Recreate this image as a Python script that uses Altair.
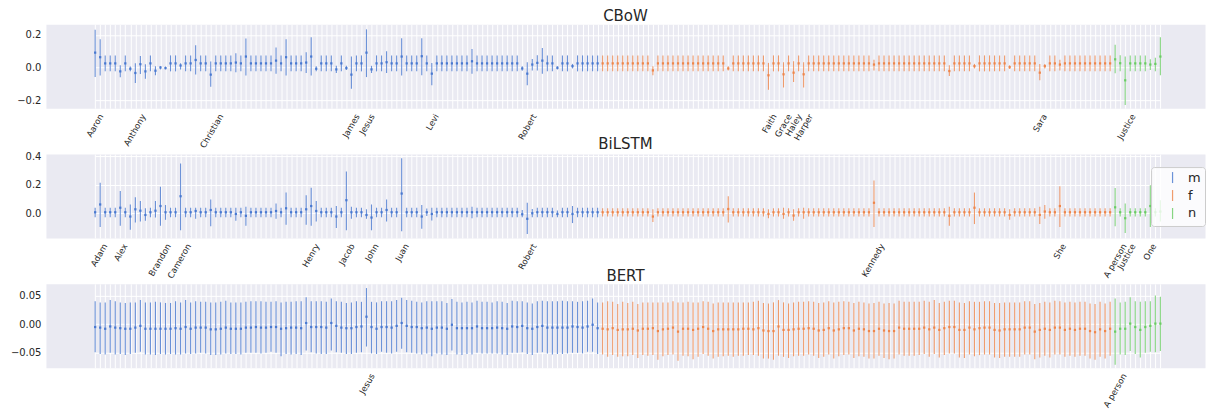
import json
import altair as alt
import pandas as pd

male_names = [
    "Aaron", "Adam", "Adrian", "Aiden", "Alejandro", "Alex", "Alexander", "Andrew", "Anthony", "Antonio",
    "Asher", "Austin", "Benjamin", "Brandon", "Brayden", "Brian", "Caleb", "Cameron", "Carlos", "Carter",
    "Charles", "Chase", "Chris", "Christian", "Christopher", "Colton", "Connor", "Daniel", "David", "Diego",
    "Dominic", "Dylan", "Easton", "Eli", "Elijah", "Eric", "Ethan", "Evan", "Ezra", "Gabriel",
    "Gavin", "Grayson", "He", "Henry", "Hudson", "Hunter", "Ian", "Isaac", "Isaiah", "Jack",
    "Jacob", "James", "Jason", "Jayden", "Jesus", "John", "Jonathan", "Jordan", "Jose", "Joseph",
    "Joshua", "Juan", "Julian", "Justin", "Kevin", "Kyle", "Landon", "Levi", "Liam", "Logan",
    "Lucas", "Luis", "Luke", "Mark", "Mason", "Matthew", "Michael", "Miguel", "Nathan", "Nicholas",
    "Noah", "Oliver", "Owen", "Patrick", "Paul", "Richard", "Robert", "Ryan", "Samuel", "Santiago",
    "Sean", "Sebastian", "Steven", "Thomas", "Timothy", "Tyler", "Victor", "William", "Wyatt", "Xavier",
    "Zachary",
]
female_names = [
    "Aaliyah", "Abigail", "Addison", "Alexa", "Alexis", "Alice", "Allison", "Alyssa", "Amanda",
    "Amelia", "Amy", "Andrea", "Angela", "Anna", "Ariana", "Aubrey", "Audrey", "Aurora", "Ava",
    "Bella", "Brianna", "Brooklyn", "Camila", "Caroline", "Charlotte", "Chloe", "Claire", "Daisy", "Delilah",
    "Eleanor", "Elena", "Elizabeth", "Emma", "Faith", "Genesis", "Gianna", "Grace", "Hailey", "Haley",
    "Hannah", "Harper", "Hazel", "Isabella", "Jasmine", "Jennifer", "Jessica", "Jocelyn", "Josephine", "Julia",
    "Kaitlyn", "Katherine", "Kayla", "Kaylee", "Kelly", "Kennedy", "Kimberly", "Kylie", "Laura", "Layla",
    "Leah", "Lillian", "Lily", "Lucy", "Luna", "Madelyn", "Madison", "Maria", "Maya", "Megan",
    "Melanie", "Mia", "Michelle", "Mila", "Naomi", "Natalie", "Nevaeh", "Nicole", "Nora", "Olivia",
    "Paisley", "Penelope", "Rachel", "Rebecca", "Rose", "Ruby", "Samantha", "Sandra", "Sara", "Sarah",
    "Savannah", "Scarlett", "She", "Sofia", "Sophia", "Stella", "Stephanie", "Taylor", "Valentina", "Victoria",
    "Violet", "Zoe", "Zoey",
]
neutral_names = ["A person", "Avery", "Justice", "Morgan", "Noel", "Oakley", "Ollie", "One", "Quinn", "Rowan"]

names = male_names + female_names + neutral_names
genders = ["m"] * len(male_names) + ["f"] * len(female_names) + ["n"] * len(neutral_names)

# ---------------- CBoW ----------------
cbow_mean = [
    0.091, 0.063, 0.025, 0.025, 0.025, -0.024, 0.025, -0.008, -0.034, 0.020,
    -0.024, 0.025, -0.020, 0.000, -0.004, 0.025, 0.025, 0.012, 0.025, 0.025,
    0.046, 0.025, 0.025, -0.044, 0.025, 0.025, 0.025, 0.025, 0.030, 0.025,
    0.067, 0.025, 0.025, 0.025, 0.025, 0.025, 0.042, 0.025, 0.063, 0.025,
    0.025, 0.025, 0.030, 0.067, -0.008, 0.025, 0.025, 0.025, -0.012, 0.025,
    -0.004, -0.044, 0.025, 0.025, 0.091, -0.012, 0.025, 0.025, 0.032, 0.025,
    0.025, 0.067, 0.025, 0.025, 0.025, 0.069, 0.025, -0.038, 0.025, 0.025,
    0.025, 0.025, 0.025, 0.025, 0.025, 0.038, 0.025, 0.025, 0.025, 0.025,
    0.025, 0.025, 0.025, 0.025, 0.025, -0.006, -0.038, 0.018, 0.028, 0.042,
    0.025, 0.025, -0.002, 0.025, 0.025, 0.008, 0.025, 0.025, 0.025, 0.025,
    0.025, 0.025, 0.025, 0.025, 0.025, 0.025, 0.025, 0.025, 0.025, 0.025,
    0.025, -0.018, 0.025, 0.025, 0.025, 0.025, 0.025, 0.025, 0.025, 0.025,
    0.025, 0.025, 0.025, 0.025, 0.025, 0.025, -0.006, 0.025, 0.025, 0.025,
    0.025, 0.025, 0.025, 0.025, -0.048, 0.025, 0.025, -0.042, 0.025, -0.032,
    0.025, -0.042, 0.025, 0.025, 0.025, 0.025, 0.025, 0.025, 0.025, 0.025,
    0.025, 0.025, 0.025, 0.025, 0.025, 0.018, 0.025, 0.025, 0.025, 0.025,
    0.025, 0.025, 0.025, 0.025, 0.025, 0.025, 0.025, 0.025, 0.025, 0.025,
    -0.022, 0.025, 0.025, 0.025, 0.025, 0.008, 0.025, 0.025, 0.025, 0.025,
    0.025, 0.025, 0.002, 0.025, 0.025, 0.025, 0.025, 0.025, -0.032, 0.008,
    0.025, 0.025, 0.018, 0.025, 0.025, 0.025, 0.025, 0.025, 0.025, 0.025,
    0.025, 0.025, 0.025, 0.050, 0.026, -0.079, 0.025, 0.025, 0.025, 0.025,
    0.018, 0.022, 0.067,
]
cbow_lo = [
    -0.059, -0.050, -0.024, -0.024, -0.024, -0.060, -0.024, -0.024, -0.095, -0.040,
    -0.069, -0.024, -0.048, -0.012, -0.012, -0.024, -0.024, -0.012, -0.024, -0.024,
    -0.044, -0.024, -0.024, -0.119, -0.024, -0.024, -0.024, -0.024, -0.030, -0.024,
    -0.050, -0.024, -0.024, -0.024, -0.024, -0.024, -0.038, -0.024, -0.050, -0.024,
    -0.024, -0.024, -0.034, -0.050, -0.024, -0.024, -0.024, -0.024, -0.034, -0.024,
    -0.016, -0.131, -0.024, -0.024, -0.059, -0.034, -0.024, -0.024, -0.034, -0.024,
    -0.024, -0.050, -0.024, -0.024, -0.024, -0.048, -0.024, -0.109, -0.024, -0.024,
    -0.024, -0.024, -0.024, -0.024, -0.024, -0.038, -0.024, -0.024, -0.024, -0.024,
    -0.024, -0.024, -0.024, -0.024, -0.024, -0.020, -0.109, -0.018, -0.018, -0.038,
    -0.024, -0.024, -0.012, -0.024, -0.024, -0.006, -0.024, -0.024, -0.024, -0.024,
    -0.024, -0.024, -0.024, -0.024, -0.024, -0.024, -0.024, -0.024, -0.024, -0.024,
    -0.024, -0.048, -0.024, -0.024, -0.024, -0.024, -0.024, -0.024, -0.024, -0.024,
    -0.024, -0.024, -0.024, -0.024, -0.024, -0.024, -0.018, -0.024, -0.024, -0.024,
    -0.024, -0.024, -0.024, -0.024, -0.137, -0.024, -0.024, -0.123, -0.024, -0.089,
    -0.024, -0.123, -0.024, -0.024, -0.024, -0.024, -0.024, -0.024, -0.024, -0.024,
    -0.024, -0.024, -0.024, -0.024, -0.024, -0.018, -0.024, -0.024, -0.024, -0.024,
    -0.024, -0.024, -0.024, -0.024, -0.024, -0.024, -0.024, -0.024, -0.024, -0.024,
    -0.053, -0.024, -0.024, -0.024, -0.024, -0.006, -0.024, -0.024, -0.024, -0.024,
    -0.024, -0.024, -0.010, -0.024, -0.024, -0.024, -0.024, -0.024, -0.079, -0.006,
    -0.024, -0.024, -0.018, -0.024, -0.024, -0.024, -0.024, -0.024, -0.024, -0.024,
    -0.024, -0.024, -0.024, -0.036, -0.024, -0.230, -0.024, -0.024, -0.024, -0.024,
    -0.016, -0.024, -0.048,
]
cbow_hi = [
    0.232, 0.174, 0.074, 0.074, 0.074, 0.014, 0.074, 0.006, 0.026, 0.070,
    0.020, 0.074, 0.008, 0.008, 0.006, 0.074, 0.074, 0.026, 0.074, 0.074,
    0.137, 0.074, 0.074, 0.036, 0.074, 0.074, 0.074, 0.074, 0.087, 0.074,
    0.178, 0.074, 0.074, 0.074, 0.074, 0.074, 0.123, 0.074, 0.174, 0.074,
    0.074, 0.074, 0.093, 0.186, 0.008, 0.074, 0.074, 0.074, 0.010, 0.074,
    0.010, 0.067, 0.074, 0.074, 0.234, 0.010, 0.074, 0.074, 0.100, 0.074,
    0.074, 0.180, 0.074, 0.074, 0.074, 0.180, 0.074, 0.028, 0.074, 0.074,
    0.074, 0.074, 0.074, 0.074, 0.074, 0.113, 0.074, 0.074, 0.074, 0.074,
    0.074, 0.074, 0.074, 0.074, 0.074, 0.008, 0.032, 0.052, 0.075, 0.119,
    0.074, 0.074, 0.008, 0.074, 0.074, 0.022, 0.074, 0.074, 0.074, 0.074,
    0.074, 0.074, 0.074, 0.074, 0.074, 0.074, 0.074, 0.074, 0.074, 0.074,
    0.074, 0.008, 0.074, 0.074, 0.074, 0.074, 0.074, 0.074, 0.074, 0.074,
    0.074, 0.074, 0.074, 0.074, 0.074, 0.074, 0.008, 0.074, 0.074, 0.074,
    0.074, 0.074, 0.074, 0.074, 0.028, 0.074, 0.074, 0.032, 0.074, 0.038,
    0.074, 0.032, 0.074, 0.074, 0.074, 0.074, 0.074, 0.074, 0.074, 0.074,
    0.074, 0.074, 0.074, 0.074, 0.074, 0.048, 0.074, 0.074, 0.074, 0.074,
    0.074, 0.074, 0.074, 0.074, 0.074, 0.074, 0.074, 0.074, 0.074, 0.074,
    0.014, 0.074, 0.074, 0.074, 0.074, 0.022, 0.074, 0.074, 0.074, 0.074,
    0.074, 0.074, 0.014, 0.074, 0.074, 0.074, 0.074, 0.074, 0.022, 0.022,
    0.074, 0.074, 0.048, 0.074, 0.074, 0.074, 0.074, 0.074, 0.074, 0.074,
    0.074, 0.074, 0.074, 0.140, 0.075, 0.067, 0.074, 0.074, 0.074, 0.074,
    0.050, 0.060, 0.186,
]

# ---------------- BiLSTM ----------------
bilstm_mean = [
    0.007, 0.062, 0.007, 0.007, 0.007, 0.039, 0.007, -0.023, 0.028, 0.018,
    -0.012, 0.007, 0.018, 0.051, 0.007, 0.007, 0.007, 0.120, 0.007, 0.007,
    0.016, 0.007, 0.007, 0.023, 0.007, 0.007, 0.007, 0.007, -0.005, 0.007,
    -0.018, 0.007, 0.007, 0.007, 0.007, 0.007, 0.016, 0.007, 0.035, 0.007,
    0.007, 0.007, 0.028, 0.051, 0.016, 0.007, 0.007, 0.007, -0.023, 0.007,
    0.092, 0.007, 0.007, 0.007, -0.012, -0.030, 0.007, 0.007, 0.023, 0.007,
    0.007, 0.139, 0.007, 0.007, 0.007, -0.023, 0.007, -0.005, 0.007, 0.007,
    0.007, 0.007, 0.007, 0.007, 0.007, 0.007, 0.007, 0.007, 0.007, 0.007,
    0.007, 0.007, 0.007, 0.007, 0.007, -0.007, -0.039, 0.000, 0.007, 0.007,
    0.007, 0.007, -0.005, 0.007, 0.007, -0.005, 0.007, 0.007, 0.007, 0.007,
    0.007, 0.007, 0.007, 0.007, 0.007, 0.007, 0.007, 0.007, 0.007, 0.007,
    0.007, -0.023, 0.007, 0.007, 0.007, 0.007, 0.007, 0.007, 0.007, 0.007,
    0.007, 0.007, 0.007, 0.007, 0.007, 0.007, 0.030, 0.007, 0.007, 0.007,
    0.007, 0.007, 0.007, 0.007, -0.005, 0.007, 0.007, -0.005, 0.007, -0.016,
    0.007, 0.007, 0.007, 0.007, 0.007, 0.007, 0.007, 0.007, 0.007, 0.007,
    0.007, 0.007, 0.007, 0.007, 0.007, 0.074, 0.007, 0.007, 0.007, 0.007,
    0.007, 0.007, 0.007, 0.007, 0.007, 0.007, 0.007, 0.007, 0.007, 0.007,
    -0.018, 0.007, 0.007, 0.007, 0.007, 0.039, 0.007, 0.007, 0.007, 0.007,
    0.007, 0.007, -0.012, 0.007, 0.007, 0.007, 0.007, 0.007, -0.012, 0.012,
    0.007, 0.007, 0.051, 0.007, 0.007, 0.007, 0.007, 0.007, 0.007, 0.007,
    0.007, 0.007, 0.007, 0.042, 0.007, -0.035, 0.007, 0.007, 0.007, 0.007,
    0.051, 0.007, 0.012,
]
bilstm_lo = [
    -0.028, -0.097, -0.028, -0.028, -0.028, -0.088, -0.028, -0.116, -0.065, -0.058,
    -0.053, -0.028, -0.030, -0.088, -0.046, -0.028, -0.028, -0.120, -0.028, -0.028,
    -0.039, -0.028, -0.028, -0.092, -0.028, -0.028, -0.028, -0.028, -0.053, -0.028,
    -0.088, -0.028, -0.028, -0.028, -0.028, -0.028, -0.039, -0.028, -0.081, -0.028,
    -0.028, -0.028, -0.081, -0.088, -0.058, -0.028, -0.028, -0.028, -0.104, -0.028,
    -0.120, -0.039, -0.028, -0.028, -0.039, -0.120, -0.028, -0.028, -0.058, -0.028,
    -0.028, -0.127, -0.028, -0.028, -0.028, -0.109, -0.019, -0.051, -0.028, -0.028,
    -0.028, -0.028, -0.028, -0.028, -0.028, -0.035, -0.028, -0.028, -0.028, -0.028,
    -0.028, -0.028, -0.028, -0.028, -0.028, -0.028, -0.146, -0.028, -0.028, -0.028,
    -0.028, -0.028, -0.028, -0.028, -0.028, -0.069, -0.028, -0.028, -0.028, -0.028,
    -0.028, -0.023, -0.023, -0.023, -0.023, -0.023, -0.023, -0.023, -0.023, -0.023,
    -0.023, -0.062, -0.023, -0.023, -0.023, -0.023, -0.023, -0.023, -0.023, -0.023,
    -0.023, -0.023, -0.023, -0.023, -0.023, -0.023, -0.065, -0.023, -0.023, -0.023,
    -0.023, -0.023, -0.023, -0.023, -0.035, -0.023, -0.023, -0.039, -0.023, -0.053,
    -0.023, -0.039, -0.023, -0.023, -0.023, -0.023, -0.023, -0.023, -0.023, -0.023,
    -0.023, -0.023, -0.023, -0.023, -0.023, -0.097, -0.023, -0.023, -0.023, -0.023,
    -0.023, -0.023, -0.023, -0.023, -0.023, -0.023, -0.023, -0.023, -0.023, -0.023,
    -0.088, -0.023, -0.023, -0.023, -0.023, -0.076, -0.023, -0.023, -0.023, -0.023,
    -0.023, -0.023, -0.046, -0.023, -0.023, -0.023, -0.023, -0.023, -0.076, -0.039,
    -0.023, -0.023, -0.097, -0.023, -0.023, -0.023, -0.023, -0.023, -0.023, -0.023,
    -0.023, -0.023, -0.023, -0.092, -0.023, -0.139, -0.023, -0.023, -0.023, -0.023,
    -0.097, -0.023, -0.058,
]
bilstm_hi = [
    0.039, 0.215, 0.039, 0.039, 0.039, 0.157, 0.039, 0.062, 0.113, 0.086,
    0.035, 0.039, 0.086, 0.187, 0.058, 0.039, 0.039, 0.351, 0.039, 0.039,
    0.039, 0.039, 0.039, 0.097, 0.039, 0.039, 0.039, 0.039, 0.039, 0.039,
    0.046, 0.039, 0.039, 0.039, 0.039, 0.039, 0.069, 0.039, 0.146, 0.039,
    0.039, 0.039, 0.127, 0.180, 0.086, 0.039, 0.039, 0.039, 0.051, 0.039,
    0.294, 0.046, 0.039, 0.039, 0.028, 0.062, 0.039, 0.039, 0.097, 0.039,
    0.039, 0.388, 0.039, 0.039, 0.039, 0.058, 0.034, 0.039, 0.039, 0.039,
    0.039, 0.039, 0.039, 0.039, 0.039, 0.046, 0.039, 0.039, 0.039, 0.039,
    0.039, 0.039, 0.039, 0.039, 0.039, 0.023, 0.074, 0.030, 0.039, 0.039,
    0.039, 0.039, 0.019, 0.039, 0.039, 0.051, 0.039, 0.039, 0.039, 0.039,
    0.039, 0.035, 0.035, 0.035, 0.035, 0.035, 0.035, 0.035, 0.035, 0.035,
    0.035, 0.028, 0.035, 0.035, 0.035, 0.035, 0.035, 0.035, 0.035, 0.035,
    0.035, 0.035, 0.035, 0.035, 0.035, 0.035, 0.120, 0.035, 0.035, 0.035,
    0.035, 0.035, 0.035, 0.035, 0.028, 0.035, 0.035, 0.039, 0.035, 0.028,
    0.035, 0.039, 0.035, 0.035, 0.035, 0.035, 0.035, 0.035, 0.035, 0.035,
    0.035, 0.035, 0.035, 0.035, 0.035, 0.231, 0.035, 0.035, 0.035, 0.035,
    0.035, 0.035, 0.035, 0.035, 0.035, 0.035, 0.035, 0.035, 0.035, 0.035,
    0.046, 0.035, 0.035, 0.035, 0.035, 0.146, 0.035, 0.035, 0.035, 0.035,
    0.035, 0.035, 0.028, 0.035, 0.035, 0.035, 0.035, 0.035, 0.046, 0.058,
    0.035, 0.035, 0.190, 0.035, 0.035, 0.035, 0.035, 0.035, 0.035, 0.035,
    0.035, 0.035, 0.035, 0.178, 0.035, 0.069, 0.035, 0.035, 0.035, 0.035,
    0.197, 0.035, 0.092,
]

# ---------------- BERT ----------------
bert_mean = [
    -0.005, -0.006, -0.008, -0.004, -0.006, -0.007, -0.008, -0.008, -0.006, -0.003,
    -0.008, -0.008, -0.008, -0.008, -0.008, -0.008, -0.007, -0.008, -0.005, -0.008,
    -0.006, -0.006, -0.006, -0.009, -0.009, -0.008, -0.006, -0.008, -0.008, -0.008,
    -0.006, -0.006, -0.005, -0.006, -0.006, -0.005, -0.005, -0.008, -0.007, -0.006,
    -0.006, -0.007, 0.002, -0.005, -0.005, -0.005, -0.006, 0.002, -0.003, -0.006,
    -0.007, -0.007, -0.005, -0.004, 0.013, -0.005, -0.008, -0.005, -0.005, -0.006,
    -0.003, 0.002, -0.003, -0.005, -0.005, -0.007, -0.006, -0.008, -0.006, -0.006,
    -0.008, -0.001, -0.007, -0.007, -0.007, -0.007, -0.004, -0.007, -0.007, -0.007,
    -0.006, -0.007, -0.008, -0.004, -0.005, -0.003, -0.007, -0.008, -0.005, -0.003,
    -0.006, -0.006, -0.006, -0.006, -0.006, -0.004, -0.005, -0.006, -0.004, -0.001,
    -0.007, -0.008, -0.009, -0.007, -0.010, -0.009, -0.009, -0.008, -0.011, -0.008,
    -0.008, -0.007, -0.012, -0.009, -0.008, -0.006, -0.013, -0.008, -0.008, -0.010,
    -0.008, -0.005, -0.008, -0.012, -0.009, -0.009, -0.009, -0.009, -0.009, -0.008,
    -0.008, -0.009, -0.007, -0.011, -0.012, -0.012, -0.004, -0.010, -0.010, -0.009,
    -0.008, -0.008, -0.007, -0.008, -0.011, -0.010, -0.007, -0.011, -0.009, -0.007,
    -0.007, -0.011, -0.008, -0.009, -0.012, -0.012, -0.008, -0.011, -0.012, -0.012,
    -0.006, -0.008, -0.008, -0.008, -0.008, -0.006, -0.009, -0.006, -0.010, -0.007,
    -0.005, -0.005, -0.010, -0.010, -0.006, -0.009, -0.007, -0.006, -0.006, -0.010,
    -0.011, -0.009, -0.009, -0.009, -0.009, -0.006, -0.006, -0.013, -0.010, -0.008,
    -0.010, -0.006, -0.006, -0.010, -0.008, -0.010, -0.008, -0.008, -0.012, -0.014,
    -0.009, -0.012, -0.008, -0.013, -0.008, -0.008, 0.001, -0.005, -0.010, -0.005,
    -0.003, 0.001, 0.001,
]
bert_lo = [
    -0.049, -0.052, -0.053, -0.050, -0.053, -0.052, -0.054, -0.052, -0.050, -0.048,
    -0.053, -0.053, -0.054, -0.052, -0.053, -0.052, -0.053, -0.053, -0.051, -0.052,
    -0.051, -0.050, -0.051, -0.054, -0.054, -0.053, -0.051, -0.052, -0.052, -0.053,
    -0.050, -0.050, -0.050, -0.051, -0.050, -0.048, -0.050, -0.056, -0.052, -0.053,
    -0.052, -0.054, -0.046, -0.049, -0.051, -0.052, -0.052, -0.046, -0.049, -0.050,
    -0.052, -0.052, -0.050, -0.049, -0.039, -0.051, -0.052, -0.048, -0.050, -0.051,
    -0.048, -0.043, -0.049, -0.050, -0.051, -0.053, -0.051, -0.056, -0.051, -0.053,
    -0.054, -0.046, -0.053, -0.054, -0.052, -0.053, -0.050, -0.051, -0.051, -0.051,
    -0.051, -0.053, -0.054, -0.050, -0.050, -0.049, -0.052, -0.054, -0.050, -0.049,
    -0.051, -0.053, -0.052, -0.052, -0.051, -0.050, -0.050, -0.051, -0.048, -0.048,
    -0.052, -0.053, -0.057, -0.054, -0.057, -0.056, -0.056, -0.054, -0.059, -0.054,
    -0.055, -0.054, -0.062, -0.056, -0.054, -0.053, -0.064, -0.055, -0.056, -0.061,
    -0.057, -0.052, -0.055, -0.060, -0.057, -0.056, -0.055, -0.057, -0.055, -0.055,
    -0.054, -0.054, -0.055, -0.060, -0.060, -0.062, -0.055, -0.057, -0.059, -0.056,
    -0.055, -0.055, -0.053, -0.055, -0.059, -0.057, -0.053, -0.060, -0.056, -0.054,
    -0.053, -0.059, -0.056, -0.057, -0.060, -0.060, -0.055, -0.059, -0.061, -0.060,
    -0.053, -0.055, -0.055, -0.055, -0.054, -0.052, -0.057, -0.052, -0.058, -0.054,
    -0.051, -0.051, -0.058, -0.059, -0.053, -0.056, -0.054, -0.053, -0.053, -0.058,
    -0.059, -0.057, -0.057, -0.057, -0.057, -0.053, -0.053, -0.061, -0.058, -0.055,
    -0.058, -0.053, -0.053, -0.057, -0.055, -0.057, -0.055, -0.055, -0.060, -0.062,
    -0.057, -0.060, -0.055, -0.071, -0.053, -0.054, -0.047, -0.052, -0.058, -0.050,
    -0.048, -0.049, -0.047,
]
bert_hi = [
    0.040, 0.038, 0.038, 0.042, 0.040, 0.038, 0.037, 0.038, 0.038, 0.042,
    0.038, 0.038, 0.039, 0.038, 0.037, 0.037, 0.040, 0.038, 0.042, 0.038,
    0.040, 0.039, 0.039, 0.038, 0.038, 0.039, 0.041, 0.038, 0.038, 0.038,
    0.039, 0.040, 0.040, 0.040, 0.039, 0.039, 0.040, 0.038, 0.039, 0.039,
    0.040, 0.040, 0.047, 0.040, 0.040, 0.040, 0.039, 0.045, 0.040, 0.039,
    0.037, 0.038, 0.040, 0.039, 0.063, 0.039, 0.038, 0.040, 0.040, 0.040,
    0.042, 0.046, 0.042, 0.041, 0.039, 0.038, 0.040, 0.040, 0.040, 0.040,
    0.037, 0.044, 0.039, 0.038, 0.039, 0.038, 0.041, 0.039, 0.039, 0.038,
    0.040, 0.039, 0.037, 0.041, 0.040, 0.040, 0.038, 0.036, 0.040, 0.041,
    0.040, 0.040, 0.040, 0.041, 0.040, 0.040, 0.039, 0.040, 0.041, 0.045,
    0.038, 0.038, 0.040, 0.039, 0.035, 0.039, 0.037, 0.039, 0.035, 0.038,
    0.038, 0.038, 0.038, 0.038, 0.038, 0.040, 0.038, 0.038, 0.039, 0.038,
    0.038, 0.040, 0.039, 0.036, 0.038, 0.038, 0.038, 0.038, 0.038, 0.038,
    0.038, 0.039, 0.041, 0.037, 0.036, 0.038, 0.042, 0.038, 0.036, 0.038,
    0.039, 0.039, 0.040, 0.039, 0.037, 0.038, 0.040, 0.038, 0.039, 0.040,
    0.039, 0.037, 0.039, 0.038, 0.036, 0.037, 0.039, 0.036, 0.037, 0.036,
    0.041, 0.039, 0.039, 0.039, 0.039, 0.041, 0.039, 0.042, 0.037, 0.039,
    0.041, 0.041, 0.038, 0.037, 0.040, 0.039, 0.039, 0.040, 0.040, 0.037,
    0.037, 0.038, 0.038, 0.038, 0.038, 0.040, 0.040, 0.035, 0.037, 0.039,
    0.038, 0.041, 0.040, 0.038, 0.039, 0.038, 0.039, 0.039, 0.036, 0.035,
    0.039, 0.036, 0.039, 0.045, 0.038, 0.039, 0.047, 0.040, 0.039, 0.040,
    0.040, 0.050, 0.048,
]

# names that get an x tick label in each panel
cbow_labels = ["Aaron", "Anthony", "Christian", "James", "Jesus", "Levi", "Robert",
               "Faith", "Grace", "Haley", "Harper", "Sara", "Justice"]
bilstm_labels = ["Adam", "Alex", "Brandon", "Cameron", "Henry", "Jacob", "John", "Juan",
                 "Robert", "Kennedy", "She", "A person", "Justice", "One"]
bert_labels = ["Jesus", "A person"]

gender_domain = ["m", "f", "n"]
gender_colors = ["#4878d0", "#ee854a", "#6acc64"]

TEXT = "#262626"
FONT = "DejaVu Sans"
Y_EXTENT = 37
PLOT_W = 1161
PLOT_H = 84
X_RANGE = [49.3, 1116.3]


def panel(title, mean, lo, hi, labels, y_domain, y_ticks, y_fmt, legend):
    df = pd.DataFrame({"name": names, "gender": genders, "mean": mean, "lo": lo, "hi": hi})
    label_expr = "indexof(%s, datum.value) >= 0 ? datum.value : ''" % json.dumps(labels)
    x = alt.X(
        "name:N",
        sort=names,
        scale=alt.Scale(type="point", range=X_RANGE, padding=0),
        axis=alt.Axis(
            title=None,
            labelExpr=label_expr,
            labelAngle=300,
            labelAlign="right",
            labelBaseline="middle",
            labelPadding=6,
            labelOffset={"expr": "length(datum.value) * 1.1"},
            labelFontSize=8.5,
            labelFont=FONT,
            labelColor=TEXT,
            labelOverlap=False,
            labelLimit=200,
            ticks=False,
            tickSize=0,
            domain=False,
            grid=True,
            gridColor="white",
            gridWidth=1,
        ),
    )
    yscale = alt.Scale(domain=y_domain, nice=False, zero=False)
    yaxis = alt.Axis(
        title=None,
        values=y_ticks,
        format=y_fmt,
        labelFontSize=10,
        labelFont=FONT,
        labelColor=TEXT,
        labelPadding=5,
        ticks=False,
        tickSize=0,
        domain=False,
        grid=True,
        gridColor="white",
        gridWidth=1,
        minExtent=Y_EXTENT,
        maxExtent=Y_EXTENT,
    )
    if legend:
        leg = alt.Legend(
            title=None,
            orient="none",
            legendX=1107,
            legendY=13,
            fillColor="rgba(255,255,255,0.8)",
            strokeColor="#cccccc",
            cornerRadius=3,
            padding=4,
            rowPadding=1,
            symbolType="M0,-1L0,1",
            symbolSize=121,
            symbolStrokeWidth=1.2,
            symbolOffset=11,
            labelOffset=9,
            labelFontSize=13,
            labelFont=FONT,
            labelColor=TEXT,
        )
    else:
        leg = None
    color = alt.Color(
        "gender:N",
        scale=alt.Scale(domain=gender_domain, range=gender_colors),
        legend=leg,
    )
    base = alt.Chart(df)
    rules = base.mark_rule(strokeWidth=1.1, opacity=0.8).encode(
        x=x,
        y=alt.Y("lo:Q", scale=yscale, axis=yaxis),
        y2="hi:Q",
        color=color,
    )
    pts = base.mark_point(shape="square", filled=True, size=5, opacity=1).encode(
        x=x,
        y=alt.Y("mean:Q", scale=yscale, axis=yaxis),
        color=color,
    )
    return alt.layer(rules, pts).properties(
        width=PLOT_W,
        height=PLOT_H,
        title=alt.TitleParams(
            text=title, fontSize=15, fontWeight="normal", font=FONT, color=TEXT, offset=0
        ),
    )


p1 = panel("CBoW", cbow_mean, cbow_lo, cbow_hi, cbow_labels,
           [-0.25, 0.265], [-0.2, 0.0, 0.2], ".1f", False)
p2 = panel("BiLSTM", bilstm_mean, bilstm_lo, bilstm_hi, bilstm_labels,
           [-0.174, 0.417], [0.0, 0.2, 0.4], ".1f", True)
p3 = panel("BERT", bert_mean, bert_lo, bert_hi, bert_labels,
           [-0.076, 0.0703], [-0.05, 0.0, 0.05], ".2f", False)

chart = (
    alt.vconcat(p1, p2, p3, spacing=46, bounds="flush")
    .resolve_scale(color="independent")
    .resolve_legend(color="independent")
    .properties(padding=0, background="white")
    .configure_view(fill="#eaeaf2", stroke="transparent")
)

chart.save("out.html", embed_options={"renderer": "svg", "actions": False})
